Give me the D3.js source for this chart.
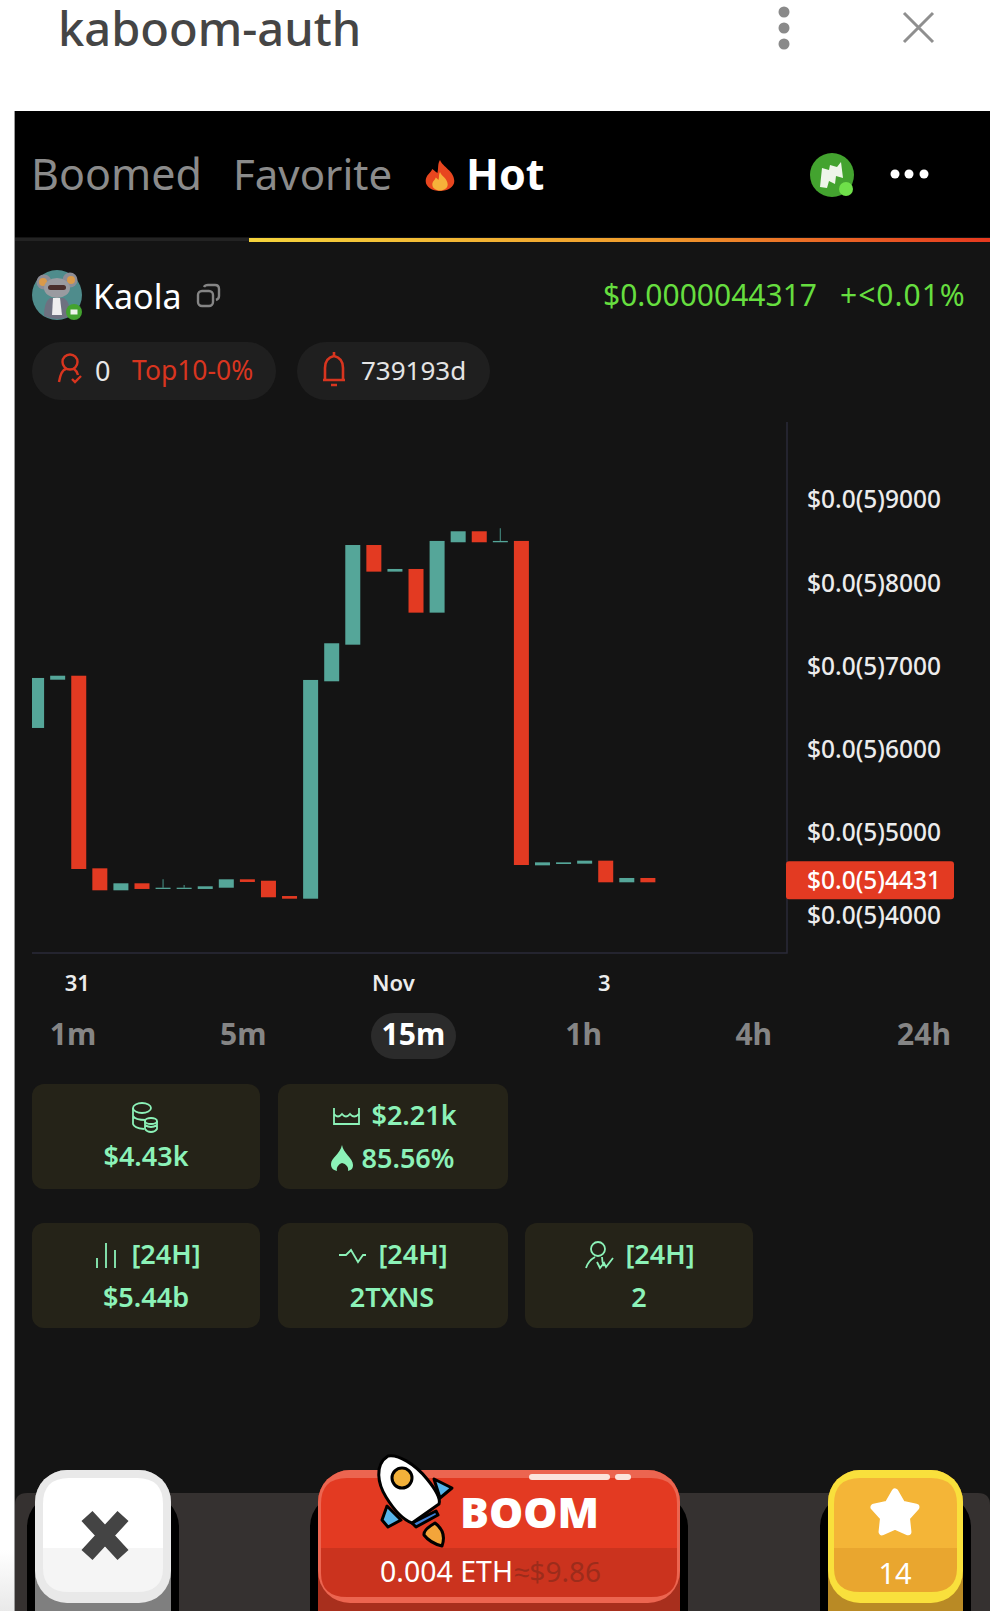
<!DOCTYPE html>
<html>
<head>
<meta charset="utf-8">
<script src="https://cdnjs.cloudflare.com/ajax/libs/d3/7.8.5/d3.min.js"></script>
<style>
  html, body { margin: 0; padding: 0; background: #fff; }
  svg { display: block; font-family: 'Noto Sans', sans-serif; }
</style>
</head>
<body>
<svg id="chart" width="995" height="1611"></svg>
<script>
// values are in units of 0.0(5)
const candleIndex = d3.range(30);
const candleOpen = [6260, 6840, 6888, 4573, 4309, 4393, 4325, 4325, 4325, 4340, 4441, 4424, 4240, 4208, 6821, 7261, 8459, 8139, 8171, 7646, 8492, 8624, 8492, 8508, 4609, 4625, 4629, 4665, 4405, 4457];
const candleClose = [6861, 6888, 4565, 4309, 4393, 4325, 4340, 4340, 4357, 4441, 4409, 4225, 4208, 6837, 7278, 8459, 8139, 8171, 7646, 8508, 8624, 8492, 8508, 4613, 4645, 4645, 4665, 4405, 4457, 4405];
const candleHigh = [6861, 6888, 6888, 4573, 4393, 4393, 4441, 4373, 4357, 4441, 4441, 4424, 4240, 6837, 7278, 8459, 8459, 8171, 8171, 8508, 8624, 8624, 8660, 8508, 4645, 4645, 4665, 4665, 4457, 4457];
const priceTicks = [9000, 8000, 7000, 6000, 5000, 4000];
const lastPrice = 4431;
const timeTicks = [2, 17, 27];
const timeLabels = ['31', 'Nov', '3'];
const frames = ['1m', '5m', '15m', '1h', '4h', '24h'];
const activeFrame = '15m';

const UP = '#55a699';
const DOWN = '#e33a22';
const MINT = '#8cf2b8';

const svg = d3.select('#chart');
const defs = svg.append('defs');

const addText = (x, y, str, size, fill, weight, anchor) =>
  svg.append('text')
    .attr('x', x).attr('y', y)
    .attr('font-size', size)
    .attr('fill', fill)
    .attr('font-weight', weight || 400)
    .attr('text-anchor', anchor || 'start')
    .attr('dominant-baseline', 'central')
    .text(str);

const addRect = (x, y, w, h, r, fill) =>
  svg.append('rect')
    .attr('x', x).attr('y', y).attr('width', w).attr('height', h)
    .attr('rx', r || 0).attr('fill', fill);

const flamePath = 'M0 -15 C2 -8 11 -4 11 6 C11 12 6 16 0 16 C-6 16 -11 12 -11 6 C-11 0 -7 -2 -6 -6 C-4 -4 -3 -3 -2 -2 C-1 -7 -2 -11 0 -15 Z';

// window header
addText(58, 28, 'kaboom-auth', 47, '#454545', 500);
[12, 28, 44].forEach((cy) => {
  svg.append('circle').attr('cx', 784).attr('cy', cy).attr('r', 5.5).attr('fill', '#8a8a8a');
});
svg.append('path')
  .attr('d', 'M904 13 L933 42 M933 13 L904 42')
  .attr('stroke', '#8f8f8f').attr('stroke-width', 3).attr('fill', 'none');

// panel
const sideGrad = defs.append('linearGradient').attr('id', 'sideGrad')
  .attr('x1', 0).attr('y1', 0).attr('x2', 0).attr('y2', 1);
sideGrad.append('stop').attr('offset', '0%').attr('stop-color', '#ffffff');
sideGrad.append('stop').attr('offset', '100%').attr('stop-color', '#e9e9e9');
addRect(0, 1550, 15, 61, 0, 'url(#sideGrad)');
addRect(14, 111, 976, 1500, 0, '#9a9a9a');
addRect(15, 111, 975, 1500, 0, '#141414');
addRect(15, 111, 975, 126, 0, '#000000');
addRect(15, 238, 234, 3, 0, '#232323');
const tabGrad = defs.append('linearGradient').attr('id', 'tabGrad');
tabGrad.append('stop').attr('offset', '0%').attr('stop-color', '#f5d43c');
tabGrad.append('stop').attr('offset', '55%').attr('stop-color', '#f09a2c');
tabGrad.append('stop').attr('offset', '100%').attr('stop-color', '#e6391f');
addRect(249, 238, 741, 4, 0, 'url(#tabGrad)');

addText(31, 173, 'Boomed', 43, '#8b8b8b');
addText(233, 173, 'Favorite', 42, '#8b8b8b');
addText(466, 173, 'Hot', 43, '#ffffff', 700);
svg.append('path').attr('d', flamePath)
  .attr('transform', 'translate(440,175) scale(1.3,1)').attr('fill', '#e8461f');
svg.append('path').attr('d', flamePath)
  .attr('transform', 'translate(440,181) scale(0.7,0.6)').attr('fill', '#f6b13a');

svg.append('circle').attr('cx', 832).attr('cy', 175).attr('r', 22).attr('fill', '#43a32f');
svg.append('path').attr('d', 'M820 187 L822 168 L829 170 L830 165 L837 167 L841 162 L843 178 L836 176 L835 184 L829 181 L827 188 Z')
  .attr('fill', '#eef5ea');
svg.append('circle').attr('cx', 846).attr('cy', 189).attr('r', 7).attr('fill', '#6fe04a');
[895, 909, 924].forEach((cx) => {
  svg.append('circle').attr('cx', cx).attr('cy', 174).attr('r', 4.5).attr('fill', '#ffffff');
});

// token row: avatar
svg.append('circle').attr('cx', 57).attr('cy', 295).attr('r', 25).attr('fill', '#4f8c8c');
svg.append('circle').attr('cx', 44).attr('cy', 282).attr('r', 7.5).attr('fill', '#8d8d96');
svg.append('circle').attr('cx', 70).attr('cy', 280).attr('r', 7.5).attr('fill', '#8d8d96');
svg.append('circle').attr('cx', 43).attr('cy', 282).attr('r', 4).attr('fill', '#d99a4a');
svg.append('circle').attr('cx', 71).attr('cy', 280).attr('r', 4).attr('fill', '#d99a4a');
svg.append('ellipse').attr('cx', 57).attr('cy', 288).attr('rx', 13).attr('ry', 10).attr('fill', '#9a9ba0');
svg.append('rect').attr('x', 48).attr('y', 285).attr('width', 18).attr('height', 5).attr('rx', 2.5).attr('fill', '#4a2f2c');
svg.append('path').attr('d', 'M44 316 Q44 302 50 298 L64 298 Q70 302 71 316 Q57 322 44 316 Z').attr('fill', '#6e7180');
svg.append('path').attr('d', 'M53 298 L60 298 L62 315 L52 315 Z').attr('fill', '#eeeeee');
svg.append('circle').attr('cx', 74).attr('cy', 312).attr('r', 8).attr('fill', '#43a32f');
svg.append('rect').attr('x', 70.5).attr('y', 309.5).attr('width', 7).attr('height', 5).attr('fill', '#eef5ea');

addText(93, 296, 'Kaola', 34, '#ffffff');
svg.append('rect').attr('x', 198).attr('y', 291).attr('width', 15).attr('height', 15).attr('rx', 4)
  .attr('fill', 'none').attr('stroke', '#858585').attr('stroke-width', 2.4);
svg.append('path').attr('d', 'M204 287 Q205 285 208 285 H215 Q219 285 219 289 V296 Q219 299 216 300')
  .attr('fill', 'none').attr('stroke', '#858585').attr('stroke-width', 2.4);
addText(603, 294, '$0.0000044317', 30, '#66de3f');
addText(840, 294, '+<0.01%', 30, '#66de3f').attr('letter-spacing', 1);

// pills
addRect(32, 342, 244, 58, 29, '#1f1f1f');
addRect(297, 342, 193, 58, 29, '#1f1f1f');
svg.append('circle').attr('cx', 70).attr('cy', 362).attr('r', 7.5)
  .attr('fill', 'none').attr('stroke', '#d8351f').attr('stroke-width', 2.4);
svg.append('path').attr('d', 'M59 382 Q61 370 66 369 M74 369 Q77 371 78 375 M72 379 L75 382 L81 376')
  .attr('fill', 'none').attr('stroke', '#d8351f').attr('stroke-width', 2.4);
addText(95, 370, '0', 27, '#e8e8e8');
addText(132, 370, 'Top10-0%', 26.5, '#d8351f');
svg.append('path').attr('d', 'M325 380 V368 Q325 358 334 356 Q343 358 343 368 V380 M323 380 H345 M334 352 V356 M331 385 H337')
  .attr('fill', 'none').attr('stroke', '#d8351f').attr('stroke-width', 2.6);
addText(361, 370, '739193d', 26, '#e4e4e4');

// candles
const x = d3.scaleLinear().domain([-0.218, 35.6]).range([32, 787]);
const y = d3.scaleLinear().domain([4000, 9000]).range([916, 500]);
const plotTop = 422;
const plotBottom = 953;
const bodyWidth = 15;

defs.append('clipPath').attr('id', 'plotClip')
  .append('rect').attr('x', 32).attr('y', plotTop)
  .attr('width', 755).attr('height', plotBottom - plotTop);

const plot = svg.append('g').attr('clip-path', 'url(#plotClip)');
const colorOf = (i) => (candleClose[i] >= candleOpen[i] ? UP : DOWN);

plot.selectAll('line.wick')
  .data(candleIndex)
  .enter()
  .append('line')
  .attr('class', 'wick')
  .attr('x1', (i) => x(i)).attr('x2', (i) => x(i))
  .attr('y1', (i) => y(candleHigh[i]))
  .attr('y2', (i) => y(Math.max(candleOpen[i], candleClose[i])))
  .attr('stroke', (i) => (colorOf(i) === UP ? '#3f8076' : '#a83a2a'))
  .attr('stroke-width', 1.2);

plot.selectAll('rect.body')
  .data(candleIndex)
  .enter()
  .append('rect')
  .attr('class', 'body')
  .attr('x', (i) => x(i) - bodyWidth / 2)
  .attr('width', bodyWidth)
  .attr('y', (i) => y(Math.max(candleOpen[i], candleClose[i])))
  .attr('height', (i) => Math.max(1.2, Math.abs(y(candleOpen[i]) - y(candleClose[i]))))
  .attr('fill', colorOf);

// axes
const yAxis = d3.axisRight(y)
  .tickValues(priceTicks)
  .tickSize(0)
  .tickPadding(20)
  .tickFormat((d) => '$0.0(5)' + d);
const yG = svg.append('g').attr('transform', 'translate(787,0)').call(yAxis);
yG.select('.domain').remove();
yG.selectAll('text').attr('font-size', 24.5).attr('fill', '#ececec')
  .attr('font-family', "'Noto Sans', sans-serif").attr('font-weight', 500);

const xAxis = d3.axisBottom(x)
  .tickValues(timeTicks)
  .tickSize(0)
  .tickPadding(22)
  .tickFormat((d, i) => timeLabels[i]);
const xG = svg.append('g').attr('transform', 'translate(-2,' + plotBottom + ')').call(xAxis);
xG.select('.domain').remove();
xG.selectAll('text').attr('font-size', 22).attr('fill', '#ececec')
  .attr('font-family', "'Noto Sans', sans-serif").attr('font-weight', 600);

svg.append('path')
  .attr('d', 'M32 ' + plotBottom + ' H787 V' + plotTop)
  .attr('fill', 'none').attr('stroke', '#2a2a38').attr('stroke-width', 1.5);

// last price tag
addRect(786, y(lastPrice) - 19, 168, 38, 3, DOWN);
addText(807, y(lastPrice) - 1, '$0.0(5)' + lastPrice, 24.5, '#ffffff', 500);

// time frames
const frameX = d3.scalePoint().domain(frames).range([73, 924]);
addRect(371, 1013, 85, 46, 23, '#2b2b2b');
svg.selectAll('text.frame')
  .data(frames)
  .enter()
  .append('text')
  .attr('class', 'frame')
  .attr('x', (d) => frameX(d))
  .attr('y', 1033)
  .attr('text-anchor', 'middle')
  .attr('dominant-baseline', 'central')
  .attr('font-size', 30)
  .attr('font-weight', 700)
  .attr('fill', (d) => (d === activeFrame ? '#ffffff' : '#858585'))
  .text((d) => d);

// stat cards
const CARD = '#252318';
addRect(32, 1084, 228, 105, 12, CARD);
addRect(278, 1084, 230, 105, 12, CARD);
addRect(32, 1223, 228, 105, 12, CARD);
addRect(278, 1223, 230, 105, 12, CARD);
addRect(525, 1223, 228, 105, 12, CARD);

const stat = (cx, cy, str) => addText(cx, cy, str, 27, MINT, 600, 'middle');
stat(146, 1155, '$4.43k');
stat(414, 1114, '$2.21k');
stat(408, 1157, '85.56%');
stat(166, 1253, '[24H]');
stat(146, 1296, '$5.44b');
stat(413, 1253, '[24H]');
stat(392, 1296, '2TXNS');
stat(660, 1253, '[24H]');
stat(639, 1296, '2');

const line = (d) => svg.append('path').attr('d', d)
  .attr('fill', 'none').attr('stroke', MINT).attr('stroke-width', 1.8);
// coins
svg.append('ellipse').attr('cx', 142).attr('cy', 1108).attr('rx', 9).attr('ry', 5)
  .attr('fill', 'none').attr('stroke', MINT).attr('stroke-width', 1.8);
line('M133 1108 V1124 Q134 1128 144 1129 M133 1116 Q135 1120 146 1120');
svg.append('ellipse').attr('cx', 151).attr('cy', 1121).attr('rx', 6).attr('ry', 3)
  .attr('fill', 'none').attr('stroke', MINT).attr('stroke-width', 1.8);
line('M145 1121 V1129 Q147 1132 151 1132 Q155 1132 157 1129 V1121 M145 1125 Q151 1129 157 1125');
// pool
line('M334 1108 V1124 H359 V1108 M334 1114 Q338 1119 342 1114 Q346 1119 350 1114 Q354 1119 359 1114');
// flame
svg.append('path').attr('d', 'M342 1145 C343 1153 353 1158 353 1165 C353 1169 351 1170 348 1171 C349 1167 346 1164 342 1163 C339 1164 336 1167 337 1171 C333 1170 331 1168 331 1164 C331 1158 340 1154 342 1145 Z')
  .attr('fill', MINT);
// bars
line('M97 1268 V1258 M106 1268 V1243 M115 1268 V1250');
// pulse
line('M339 1255 L346 1255 L351 1250 L358 1262 L363 1255 L366 1255');
// holder
svg.append('circle').attr('cx', 598).attr('cy', 1249).attr('r', 7)
  .attr('fill', 'none').attr('stroke', MINT).attr('stroke-width', 1.8);
line('M586 1268 Q588 1261 595 1257 M602 1257 Q602 1262 604 1266 M597 1262 L600 1268 L604 1263 L606 1267 L613 1258');

// bottom bar
svg.append('path').attr('d', 'M15 1505 Q15 1493 27 1493 H978 Q990 1493 990 1505 V1611 H15 Z').attr('fill', '#353130');

// button helper: outline, base, rim, top and lower face
const button = (x0, w, base, rim, top, bottom, inset, innerBottom) => {
  addRect(x0 - 8, 1493, w + 16, 160, 34, '#000000');
  addRect(x0, 1470, w, 180, 32, base);
  addRect(x0, 1470, w, 133, 32, rim);
  const l = x0 + inset;
  const r = x0 + w - inset;
  svg.append('path')
    .attr('d', `M${l} 1548 V1504 Q${l} 1478 ${l + 26} 1478 H${r - 26} Q${r} 1478 ${r} 1504 V1548 Z`)
    .attr('fill', top);
  svg.append('path')
    .attr('d', `M${l} 1548 H${r} V${innerBottom - 24} Q${r} ${innerBottom} ${r - 26} ${innerBottom} H${l + 26} Q${l} ${innerBottom} ${l} ${innerBottom - 24} Z`)
    .attr('fill', bottom);
};

button(35, 136, '#7f7f7f', '#e9e9e9', '#ffffff', '#f5f5f5', 8, 1592);
svg.append('path').attr('d', 'M87 1516 L123 1555 M123 1516 L87 1555')
  .attr('stroke', '#444444').attr('stroke-width', 15).attr('fill', 'none');

button(318, 362, '#a82f1d', '#ec6550', '#e33a22', '#cb331e', 3, 1597);
addRect(529, 1474, 81, 6, 3, '#fbe3dc');
addRect(615, 1474, 16, 6, 3, '#fbe3dc');
addText(460, 1511, 'BOOM', 43, '#ffffff', 900);
addText(380, 1571, '0.004 ETH', 28.5, '#ffffff');
addText(514, 1571, '≈$9.86', 28, '#9c2c1b');

// rocket
const rocket = svg.append('g')
  .attr('stroke', '#000000').attr('stroke-width', 3).attr('stroke-linejoin', 'round');
rocket.append('path').attr('d', 'M434 1479 L452 1488 L440 1498 Z').attr('fill', '#58b4ea');
rocket.append('path').attr('d', 'M387 1506 L382 1520 L388 1527 L401 1520 Z').attr('fill', '#58b4ea');
rocket.append('path').attr('d', 'M412 1523 L436 1511 L438 1515 L416 1527 Z').attr('fill', '#3f7fd6');
rocket.append('path').attr('d', 'M388 1456 C398 1454 415 1464 427 1479 C436 1490 441 1498 439 1504 L412 1523 C404 1520 394 1510 386 1497 C378 1484 374 1465 388 1456 Z').attr('fill', '#ffffff');
rocket.append('circle').attr('cx', 402).attr('cy', 1478).attr('r', 10).attr('fill', '#f3b13a');
rocket.append('path').attr('d', 'M435 1523 Q423 1530 424 1535 Q430 1543 442 1546 Q447 1532 435 1523 Z').attr('fill', '#f3a53a');

button(828, 135, '#b98a25', '#f9e03c', '#f4b537', '#e9a62f', 6, 1592);
svg.append('path')
  .attr('d', d3.line().curve(d3.curveLinearClosed)(d3.range(10).map((i) => {
    const r = i % 2 ? 12 : 22;
    const a = -Math.PI / 2 + i * Math.PI / 5;
    return [895 + r * Math.cos(a), 1514 + r * Math.sin(a)];
  })))
  .attr('fill', '#ffffff').attr('stroke', '#ffffff').attr('stroke-width', 7).attr('stroke-linejoin', 'round');
addText(895, 1572, '14', 29, '#ffffff', 400, 'middle');
</script>
</body>
</html>
